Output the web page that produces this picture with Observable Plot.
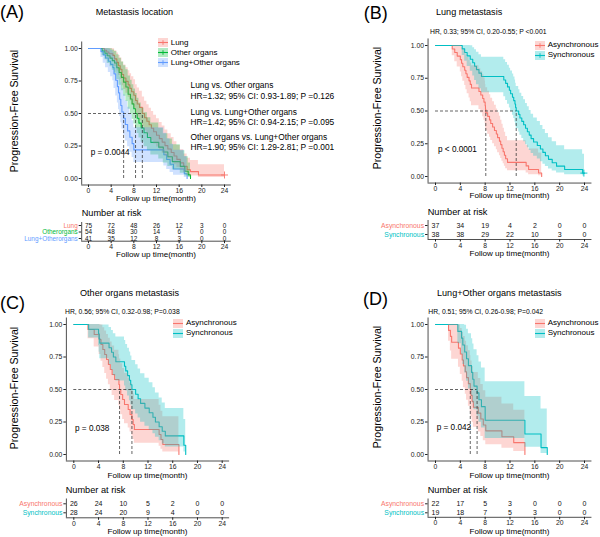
<!DOCTYPE html>
<html><head><meta charset="utf-8">
<script src="https://cdn.jsdelivr.net/npm/d3@7"></script>
<script src="https://cdn.jsdelivr.net/npm/@observablehq/plot@0.6"></script>
<style>
body{margin:0;background:#fff;}
#root{position:relative;width:600px;height:537px;overflow:hidden;font-family:"Liberation Sans",Arial,sans-serif;color:#000;background:#fff;}
.t{position:absolute;white-space:nowrap;line-height:1;}
</style></head><body><div id="root"></div>
<script>
// ---------- shared ticks ----------
const ticksX = [0, 4, 8, 12, 16, 20, 24];
const ticksY = [0, 0.25, 0.5, 0.75, 1];
const riskTimes = [0, 4, 8, 12, 16, 20, 24];
const xDomain = [-1.2, 25.2];
const yDomain = [-0.05, 1.05];

// ---------- colours ----------
const colRed = "#F8766D", colGreen = "#00BA38", colBlue = "#619CFF", colTeal = "#00BFC4";

// ---------- Panel A: metastasis location  [time, surv, lower, upper] ----------
const kmLungA = [[0,1,1,1],[2.8,0.987,0.961,1],[3.2,0.973,0.937,1],[3.6,0.96,0.917,1],[4.3,0.947,0.898,0.999],[4.6,0.92,0.861,0.983],[5.0,0.893,0.826,0.966],[5.3,0.867,0.793,0.947],[5.6,0.84,0.761,0.927],[5.9,0.8,0.714,0.896],[6.2,0.773,0.684,0.874],[6.6,0.747,0.655,0.852],[7.0,0.72,0.625,0.829],[7.3,0.693,0.596,0.806],[7.6,0.667,0.568,0.783],[8.0,0.64,0.54,0.759],[8.3,0.6,0.499,0.722],[8.6,0.573,0.471,0.696],[9.0,0.547,0.445,0.672],[9.5,0.5,0.399,0.627],[9.9,0.467,0.367,0.595],[10.3,0.44,0.341,0.568],[10.7,0.413,0.315,0.541],[11.1,0.387,0.291,0.515],[11.5,0.36,0.266,0.487],[12.0,0.333,0.242,0.459],[12.5,0.307,0.218,0.431],[13.0,0.28,0.195,0.403],[13.5,0.253,0.172,0.373],[14.0,0.227,0.149,0.345],[14.6,0.2,0.127,0.315],[15.1,0.173,0.106,0.283],[15.6,0.147,0.085,0.254],[16.2,0.12,0.065,0.222],[16.8,0.093,0.046,0.188],[17.4,0.067,0.029,0.156],[18.0,0.053,0.02,0.138],[19.4,0.027,0.007,0.106],[24.0,0.027,0.007,0.106]];
const kmOtherA = [[0,1,1,1],[2.4,0.981,0.945,1],[2.9,0.963,0.914,1],[3.3,0.944,0.885,1],[3.8,0.926,0.859,0.998],[4.2,0.907,0.833,0.988],[4.6,0.889,0.809,0.977],[5.0,0.852,0.762,0.952],[5.4,0.815,0.718,0.925],[5.8,0.778,0.675,0.897],[6.2,0.741,0.633,0.868],[6.6,0.704,0.592,0.837],[7.0,0.648,0.533,0.788],[7.4,0.611,0.494,0.756],[7.7,0.574,0.456,0.722],[8.0,0.537,0.42,0.688],[8.3,0.5,0.383,0.653],[8.6,0.463,0.347,0.617],[8.9,0.426,0.312,0.581],[9.3,0.389,0.279,0.543],[9.8,0.352,0.245,0.505],[10.4,0.315,0.213,0.467],[11.0,0.278,0.181,0.427],[12.4,0.241,0.15,0.387],[13.2,0.204,0.12,0.345],[14.0,0.167,0.092,0.303],[14.8,0.13,0.065,0.26],[16.2,0.093,0.04,0.214],[17.0,0.056,0.019,0.168],[17.6,0.028,0.007,0.12],[18.0,0,0,0]];
const kmBothA = [[0,1,1,1],[2.2,0.976,0.93,1],[2.6,0.951,0.887,1],[3.0,0.927,0.851,1],[3.5,0.902,0.816,0.997],[3.9,0.878,0.783,0.984],[4.3,0.854,0.752,0.969],[4.5,0.805,0.692,0.936],[4.8,0.756,0.635,0.9],[5.1,0.707,0.581,0.861],[5.3,0.659,0.529,0.821],[5.5,0.61,0.477,0.779],[5.7,0.561,0.428,0.736],[5.9,0.512,0.38,0.69],[6.2,0.463,0.333,0.644],[6.5,0.415,0.289,0.597],[6.9,0.366,0.245,0.548],[7.3,0.317,0.202,0.497],[7.7,0.268,0.162,0.445],[8.0,0.22,0.123,0.391],[13.3,0.183,0.096,0.349],[13.8,0.146,0.07,0.306],[14.4,0.11,0.046,0.263],[15.0,0.073,0.025,0.217],[16.9,0.037,0.008,0.17],[17.4,0,0,0]];
const mediansA = [6.2, 8.3, 9.5];
const censorLungA = [[24, 0.027]];
const groupsA = ["Lung", "Other organs", "Lung+Other organs"];
const tableLabelsA = ["Lung", "Otherorgans", "Lung+Otherorgans"];
const riskLungA = [75, 72, 48, 26, 12, 3, 0];
const riskOtherA = [54, 48, 30, 14, 6, 0, 0];
const riskBothA = [41, 35, 12, 8, 3, 0, 0];
const compA = ["Lung vs. Other organs", "HR=1.32; 95% CI: 0.93-1.89; P =0.126",
               "Lung vs. Lung+Other organs", "HR=1.42; 95% CI: 0.94-2.15; P =0.095",
               "Other organs vs. Lung+Other organs", "HR=1.90; 95% CI: 1.29-2.81; P =0.001"];

// ---------- Panel B: lung metastasis ----------
const kmAsyncB = [[0,1,1,1],[2.7,0.973,0.922,1],[3.1,0.946,0.876,1],[3.5,0.919,0.835,1],[4.0,0.892,0.797,0.998],[4.2,0.865,0.762,0.982],[4.4,0.838,0.727,0.966],[4.7,0.811,0.694,0.948],[4.9,0.784,0.662,0.928],[5.1,0.757,0.631,0.909],[5.4,0.73,0.6,0.888],[5.6,0.703,0.57,0.866],[5.8,0.676,0.541,0.845],[7.0,0.649,0.512,0.823],[7.3,0.622,0.484,0.8],[7.6,0.595,0.457,0.776],[7.8,0.568,0.429,0.752],[8.0,0.541,0.402,0.728],[8.05,0.514,0.376,0.703],[8.1,0.486,0.349,0.677],[8.4,0.459,0.323,0.651],[8.7,0.432,0.299,0.625],[8.9,0.405,0.274,0.598],[9.2,0.378,0.25,0.571],[9.5,0.351,0.227,0.544],[9.8,0.324,0.204,0.516],[10.0,0.297,0.181,0.487],[10.3,0.27,0.159,0.459],[10.5,0.243,0.137,0.43],[10.7,0.216,0.117,0.399],[10.9,0.189,0.097,0.368],[11.1,0.162,0.078,0.337],[11.3,0.135,0.06,0.305],[11.6,0.108,0.043,0.272],[14.6,0.081,0.027,0.239],[15.0,0.054,0.014,0.209],[16.6,0.027,0.005,0.18],[17.1,0,0,0]];
const kmSyncB = [[0,1,1,1],[4.3,0.974,0.924,1],[4.7,0.947,0.879,1],[5.1,0.921,0.839,1],[5.6,0.895,0.803,0.998],[6.0,0.868,0.767,0.982],[6.3,0.842,0.733,0.967],[6.6,0.816,0.701,0.949],[7.0,0.789,0.669,0.93],[7.4,0.763,0.639,0.911],[11.0,0.737,0.609,0.891],[11.3,0.711,0.58,0.871],[11.6,0.684,0.551,0.849],[11.9,0.658,0.523,0.827],[12.1,0.632,0.496,0.806],[12.4,0.605,0.468,0.782],[12.6,0.579,0.442,0.759],[12.8,0.553,0.415,0.736],[12.9,0.526,0.389,0.711],[13.0,0.5,0.364,0.687],[13.4,0.474,0.339,0.663],[13.6,0.447,0.314,0.636],[13.9,0.421,0.29,0.611],[14.2,0.395,0.266,0.586],[14.5,0.368,0.243,0.558],[14.8,0.342,0.22,0.532],[15.1,0.316,0.198,0.504],[15.4,0.289,0.176,0.475],[15.8,0.263,0.155,0.447],[16.4,0.237,0.134,0.419],[16.9,0.21,0.113,0.389],[17.3,0.184,0.094,0.359],[17.7,0.158,0.076,0.329],[18.2,0.131,0.058,0.296],[18.8,0.105,0.042,0.265],[19.5,0.079,0.027,0.234],[20.8,0.053,0.014,0.204],[23.7,0.026,0.004,0.17],[24.0,0.026,0.004,0.17]];
const mediansB = [8.1, 13.0];
const censorSyncB = [[23.9, 0.026]];
const riskAsyncB = [37, 34, 19, 4, 2, 0, 0];
const riskSyncB = [38, 38, 29, 22, 10, 3, 0];

// ---------- Panel C: other organs metastasis ----------
const kmAsyncC = [[0,1,1,1],[2.3,0.962,0.891,1],[3.3,0.923,0.826,1],[4.1,0.885,0.77,1],[4.4,0.846,0.718,0.997],[4.7,0.808,0.67,0.975],[5.0,0.769,0.623,0.95],[5.3,0.731,0.579,0.923],[5.6,0.692,0.536,0.894],[5.9,0.654,0.494,0.865],[6.2,0.615,0.454,0.834],[6.6,0.577,0.415,0.802],[7.3,0.538,0.377,0.768],[7.4,0.5,0.34,0.734],[7.6,0.462,0.305,0.699],[7.9,0.423,0.27,0.662],[8.2,0.385,0.237,0.625],[8.8,0.346,0.204,0.587],[9.1,0.308,0.173,0.547],[9.4,0.269,0.143,0.507],[9.6,0.231,0.115,0.465],[9.8,0.192,0.087,0.424],[13.8,0.154,0.063,0.379],[14.1,0.115,0.04,0.332],[14.4,0.077,0.02,0.29],[17.0,0,0,0]];
const kmSyncC = [[0,1,1,1],[2.4,0.964,0.897,1],[4.0,0.929,0.838,1],[4.1,0.893,0.786,1],[4.2,0.857,0.737,0.997],[5.7,0.821,0.691,0.976],[6.1,0.786,0.648,0.953],[6.4,0.75,0.606,0.929],[6.8,0.714,0.565,0.903],[8.2,0.679,0.526,0.876],[8.4,0.643,0.488,0.847],[8.7,0.607,0.45,0.818],[9.0,0.571,0.414,0.788],[9.2,0.536,0.38,0.757],[9.4,0.5,0.345,0.724],[10.0,0.464,0.312,0.69],[10.4,0.429,0.28,0.657],[10.8,0.393,0.248,0.622],[11.5,0.357,0.217,0.587],[12.2,0.321,0.187,0.551],[12.8,0.286,0.159,0.513],[13.2,0.25,0.132,0.474],[13.8,0.214,0.106,0.435],[14.3,0.179,0.081,0.396],[14.8,0.143,0.058,0.353],[17.8,0.071,0.019,0.27],[18.1,0,0,0]];
const mediansC = [7.4, 9.4];
const riskAsyncC = [26, 24, 10, 5, 2, 0, 0];
const riskSyncC = [28, 24, 20, 9, 4, 0, 0];

// ---------- Panel D: lung + other organs metastasis ----------
const kmAsyncD = [[0,1,1,1],[2.1,0.955,0.872,1],[2.4,0.909,0.796,1],[2.6,0.864,0.732,1],[3.7,0.818,0.672,0.996],[4.0,0.773,0.616,0.97],[4.3,0.727,0.563,0.939],[4.5,0.682,0.513,0.907],[4.8,0.636,0.464,0.872],[5.0,0.591,0.417,0.837],[5.3,0.545,0.372,0.799],[5.6,0.5,0.329,0.759],[5.7,0.455,0.288,0.719],[5.9,0.409,0.248,0.676],[6.1,0.364,0.21,0.63],[6.9,0.318,0.173,0.585],[7.3,0.273,0.138,0.539],[7.7,0.227,0.105,0.49],[8.1,0.182,0.075,0.441],[10.7,0.136,0.048,0.389],[12.6,0.091,0.024,0.34],[14.4,0,0,0]];
const kmSyncD = [[0,1,1,1],[3.6,0.947,0.852,1],[4.2,0.895,0.767,1],[4.4,0.842,0.693,1],[4.7,0.789,0.626,0.995],[5.0,0.737,0.563,0.964],[5.3,0.684,0.504,0.929],[5.8,0.632,0.448,0.89],[6.0,0.579,0.394,0.85],[6.2,0.526,0.344,0.806],[6.7,0.474,0.295,0.76],[7.0,0.421,0.249,0.712],[7.4,0.368,0.204,0.665],[8.0,0.263,0.124,0.559],[14.4,0.158,0.056,0.447],[17.0,0.053,0.008,0.35],[18.0,0,0,0]];
const mediansD = [5.6, 6.7];
const riskAsyncD = [22, 17, 5, 3, 0, 0, 0];
const riskSyncD = [19, 18, 7, 5, 3, 0, 0];

const groups2 = ["Asynchronous", "Synchronous"];

// ---------- helpers ----------
const root = document.getElementById("root");
const FONT = "'Liberation Sans', Arial, sans-serif";
const toRows = a => a.map(([t, s, lo, hi]) => ({t, s, lo, hi}));

function txt(str, x, y, o = {}) {
  const d = document.createElement("div");
  d.className = "t";
  d.textContent = str;
  d.style.left = x + "px"; d.style.top = y + "px";
  d.style.fontSize = (o.size || 8) + "px";
  if (o.color) d.style.color = o.color;
  const ax = o.anchor === "middle" ? "-50%" : o.anchor === "end" ? "-100%" : "0";
  d.style.transform = `translate(${ax},-50%)` + (o.rotate ? ` rotate(${o.rotate}deg)` : "");
  root.appendChild(d);
}

function legend(items, keyX, textX, ys, plus) {
  items.forEach((it, i) => {
    const d = document.createElement("div");
    d.className = "t";
    d.style.left = keyX + "px"; d.style.top = (ys[i] - 4.5) + "px";
    d.innerHTML = `<svg width="10" height="9" style="display:block"><rect width="10" height="9" fill="${it.color}" fill-opacity="0.3"/><line x1="0" x2="10" y1="4.5" y2="4.5" stroke="${it.color}" stroke-width="1.1"/>${plus ? `<path d="M5 2.2V6.8M2.7 4.5H7.3" stroke="${it.color}" stroke-width="0.9"/>` : ""}</svg>`;
    root.appendChild(d);
    txt(it.name, textX, ys[i], {size: 8});
  });
}

function place(svg, box) {
  svg.style.position = "absolute";
  svg.style.left = box.left + "px";
  svg.style.top = box.top + "px";
  svg.style.background = "none";
  svg.style.overflow = "visible";
  root.appendChild(svg);
}

function survPanel({box, px, series, medians, censor}) {
  const kx = (px.x24 - px.x0) / 24, ky = px.y0 - px.y1;
  const xL = px.x0 + xDomain[0] * kx, xR = px.x0 + xDomain[1] * kx;
  const yT = px.y0 - yDomain[1] * ky, yB = px.y0 - yDomain[0] * ky;
  const marks = [];
  series.forEach(s => marks.push(Plot.line(toRows(s.data), {x: "t", y: "s", curve: "step-after", stroke: s.color, strokeWidth: 1.1})));
  series.forEach(s => marks.push(Plot.areaY(toRows(s.data), {x: "t", y1: "lo", y2: "hi", curve: "step-after", fill: s.color, fillOpacity: 0.3})));
  (censor || []).forEach(c => marks.push(Plot.dot(c.data, {x: d => d[0], y: d => d[1], symbol: "plus", r: 2.4, stroke: c.color, strokeWidth: 0.9})));
  marks.push(Plot.ruleY([0.5], {x1: 0, x2: d3.max(medians), stroke: "#222", strokeWidth: 0.7, strokeDasharray: "3,2"}));
  marks.push(Plot.ruleX(medians, {x: d => d, y1: 0, y2: 0.5, stroke: "#222", strokeWidth: 0.7, strokeDasharray: "3,2"}));
  marks.push(Plot.ruleX([xDomain[0]], {stroke: "#222", strokeWidth: 0.8}));
  marks.push(Plot.ruleY([yDomain[0]], {stroke: "#222", strokeWidth: 0.8}));
  marks.push(Plot.axisX({ticks: ticksX, tickSize: 2.5, tickPadding: 0.8, label: null}));
  marks.push(Plot.axisY({ticks: ticksY, tickFormat: d3.format(".2f"), tickSize: 2.5, tickPadding: 1.5, label: null}));
  const svg = Plot.plot({
    width: box.width, height: box.height,
    marginLeft: xL - box.left, marginRight: box.left + box.width - xR,
    marginTop: yT - box.top, marginBottom: box.top + box.height - yB,
    x: {domain: xDomain}, y: {domain: yDomain},
    style: {fontFamily: FONT, fontSize: "6.8px", color: "#222"},
    marks
  });
  place(svg, box);
}

function riskPanel({box, px, labels, colors, counts, numSize, labSize}) {
  const kx = (px.x24 - px.x0) / 24;
  const xL = px.x0 + xDomain[0] * kx, xR = px.x0 + xDomain[1] * kx;
  const n = labels.length;
  const step = (px.rows[n - 1] - px.rows[0]) / (n - 1);
  const yTopVal = -(px.rows[0] - px.lineTop) / step;
  const yBotVal = (n - 1) + (px.axis - px.rows[n - 1]) / step;
  const cells = labels.flatMap((lab, i) => riskTimes.map((t, j) => ({t, row: i, n: counts[i][j]})));
  const svg = Plot.plot({
    width: box.width, height: box.height,
    marginLeft: xL - box.left, marginRight: box.left + box.width - xR,
    marginTop: px.lineTop - box.top, marginBottom: box.top + box.height - px.axis,
    x: {domain: xDomain},
    y: {domain: [yTopVal, yBotVal], range: [px.lineTop - box.top, px.axis - box.top]},
    color: {type: "identity"},
    style: {fontFamily: FONT, fontSize: "6.8px", color: "#222"},
    marks: [
      Plot.text(cells, {x: "t", y: "row", text: d => String(d.n), fontSize: numSize, fill: "#111"}),
      Plot.text(labels, {x: xDomain[0], y: (d, i) => i, text: d => d, textAnchor: "end", dx: -4, fontSize: labSize, fill: (d, i) => colors[i]}),
      Plot.ruleX([xDomain[0]], {stroke: "#222", strokeWidth: 0.8}),
      Plot.ruleY([yBotVal], {stroke: "#222", strokeWidth: 0.8}),
      Plot.axisX({ticks: ticksX, tickSize: 2.5, tickPadding: 0.8, label: null}),
      Plot.axisY({ticks: d3.range(n), tickFormat: () => "", tickSize: 2.5, label: null})
    ]
  });
  place(svg, box);
}

// ---------- Panel A ----------
survPanel({
  box: {left: 0, top: 0, width: 300, height: 205},
  px: {x0: 88, x24: 224, y1: 48, y0: 178},
  series: [{data: kmLungA, color: colRed}, {data: kmOtherA, color: colGreen}, {data: kmBothA, color: colBlue}],
  medians: mediansA,
  censor: [{data: censorLungA, color: colRed}]
});
riskPanel({
  box: {left: 0, top: 205, width: 300, height: 57},
  px: {x0: 88, x24: 224, rows: [225, 231.5, 238], lineTop: 222, axis: 240.7},
  labels: tableLabelsA, colors: [colRed, colGreen, colBlue],
  counts: [riskLungA, riskOtherA, riskBothA], numSize: 6.4, labSize: 6.4
});
// ---------- Panel B ----------
survPanel({
  box: {left: 300, top: 0, width: 300, height: 205},
  px: {x0: 435, x24: 584, y1: 45, y0: 176},
  series: [{data: kmAsyncB, color: colRed}, {data: kmSyncB, color: colTeal}],
  medians: mediansB,
  censor: [{data: censorSyncB, color: colTeal}]
});
riskPanel({
  box: {left: 300, top: 205, width: 300, height: 57},
  px: {x0: 435, x24: 584, rows: [225, 234], lineTop: 220, axis: 239},
  labels: groups2, colors: [colRed, colTeal],
  counts: [riskAsyncB, riskSyncB], numSize: 7, labSize: 6.8
});
// ---------- Panel C ----------
survPanel({
  box: {left: 0, top: 280, width: 300, height: 200},
  px: {x0: 73.3, x24: 221.7, y1: 324, y0: 454},
  series: [{data: kmAsyncC, color: colRed}, {data: kmSyncC, color: colTeal}],
  medians: mediansC
});
riskPanel({
  box: {left: 0, top: 480, width: 300, height: 57},
  px: {x0: 73.3, x24: 221.7, rows: [503.3, 512.3], lineTop: 498.5, axis: 517.3},
  labels: groups2, colors: [colRed, colTeal],
  counts: [riskAsyncC, riskSyncC], numSize: 7, labSize: 6.8
});
// ---------- Panel D ----------
survPanel({
  box: {left: 300, top: 280, width: 300, height: 200},
  px: {x0: 435, x24: 584, y1: 324, y0: 454},
  series: [{data: kmAsyncD, color: colRed}, {data: kmSyncD, color: colTeal}],
  medians: mediansD
});
riskPanel({
  box: {left: 300, top: 480, width: 300, height: 57},
  px: {x0: 435, x24: 584, rows: [503.3, 512.3], lineTop: 498.5, axis: 516.8},
  labels: groups2, colors: [colRed, colTeal],
  counts: [riskAsyncD, riskSyncD], numSize: 7, labSize: 6.8
});

// ---------- texts ----------
const yTitle = "Progression-Free Survival";
const xTitle = "Follow up time(month)";
const riskTitle = "Number at risk";
// panel letters
txt("(A)", 12, 11.7, {size: 18, anchor: "middle"});
txt("(B)", 375.8, 12.5, {size: 18, anchor: "middle"});
txt("(C)", 12.5, 303, {size: 18, anchor: "middle"});
txt("(D)", 375.5, 299, {size: 18, anchor: "middle"});
// titles
txt("Metastasis location", 95.7, 12.7, {size: 9.1});
txt("Lung metastasis", 436, 13.3, {size: 9.1});
txt("Other organs metastasis", 80, 294, {size: 9.1});
txt("Lung+Other organs metastasis", 437, 294, {size: 9.1});
// HR headers
txt("HR, 0.33; 95% CI, 0.20-0.55; P <0.001", 430, 32.3, {size: 6.8});
txt("HR, 0.56; 95% CI, 0.32-0.98; P=0.038", 65, 312.3, {size: 6.8});
txt("HR, 0.51; 95% CI, 0.26-0.98; P=0.042", 428.3, 312.3, {size: 6.8});
// y titles
txt(yTitle, 14, 111, {size: 10.6, anchor: "middle", rotate: -90});
txt(yTitle, 377, 108, {size: 10.6, anchor: "middle", rotate: -90});
txt(yTitle, 14, 388, {size: 10.6, anchor: "middle", rotate: -90});
txt(yTitle, 377, 387, {size: 10.6, anchor: "middle", rotate: -90});
// x titles
txt(xTitle, 156, 199, {size: 8.1, anchor: "middle"});
txt(xTitle, 156, 255, {size: 8.1, anchor: "middle"});
txt(xTitle, 509.5, 196, {size: 8.1, anchor: "middle"});
txt(xTitle, 509.5, 253.5, {size: 8.1, anchor: "middle"});
txt(xTitle, 147.5, 475.5, {size: 8.1, anchor: "middle"});
txt(xTitle, 147.5, 531.5, {size: 8.1, anchor: "middle"});
txt(xTitle, 509.5, 475.5, {size: 8.1, anchor: "middle"});
txt(xTitle, 509.5, 531.5, {size: 8.1, anchor: "middle"});
// number at risk
txt(riskTitle, 81.7, 214.3, {size: 9.2});
txt(riskTitle, 427.7, 212.7, {size: 9.2});
txt(riskTitle, 65.7, 491, {size: 9.2});
txt(riskTitle, 427.7, 490.7, {size: 9.2});
// p values
txt("p = 0.0044", 90.7, 153.3, {size: 8.2});
txt("p < 0.0001", 438, 150, {size: 8.2});
txt("p = 0.038", 75, 429, {size: 8.2});
txt("p = 0.042", 436.7, 428.3, {size: 8.2});
// panel A comparisons
[85, 96, 111.7, 121.7, 136.7, 146.7].forEach((y, i) => txt(compA[i], 190.5, y, {size: 8.4}));
// legends
legend(groupsA.map((g, i) => ({name: g, color: [colRed, colGreen, colBlue][i]})), 158, 170.7, [42.7, 52.7, 62.7], true);
legend(groups2.map((g, i) => ({name: g, color: [colRed, colTeal][i]})), 535, 547.7, [45, 55], true);
legend(groups2.map((g, i) => ({name: g, color: [colRed, colTeal][i]})), 173, 186, [323.3, 333.3], false);
legend(groups2.map((g, i) => ({name: g, color: [colRed, colTeal][i]})), 535, 547.7, [323.3, 333.3], false);
</script></body></html>
